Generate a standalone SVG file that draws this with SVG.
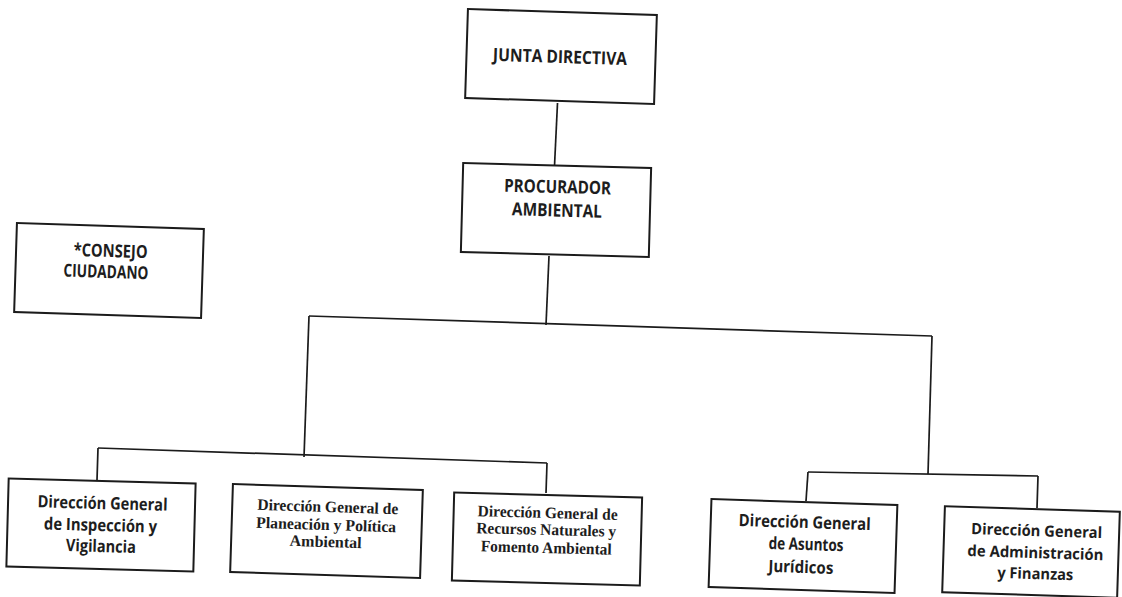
<svg xmlns="http://www.w3.org/2000/svg" width="1122" height="597" viewBox="0 0 1122 597">
<style>
.box{fill:#ffffff;stroke:#1b1b1b;stroke-width:2}
.cal{font-family:"Open Sans","Noto Sans",sans-serif;font-weight:700;font-size:17px;fill:#1d1d20;text-anchor:middle}
.hd{font-size:18px}
.sm{font-size:15.5px}
.tnr{font-family:"Liberation Serif","Times New Roman",serif;font-weight:700;font-size:16px;fill:#1d1d1d;text-anchor:middle}
.conn path{stroke:#1b1b1b;stroke-width:1.7;fill:none}
</style>
<rect width="1122" height="597" fill="#ffffff"/>
<g class="conn" id="connectors">
<path d="M557.5 103 L554.5 166"/>
<path d="M549 256 L546 325"/>
<path d="M309 316 L932 336"/>
<path d="M309 316 L304 457"/>
<path d="M98 448 L547 463"/>
<path d="M98 448 L97 480"/>
<path d="M547 463 L546 493"/>
<path d="M932 336 L928 474"/>
<path d="M808 472 L1038 476"/>
<path d="M808 472 L806 501"/>
<path d="M1038 476 L1037 508"/>
</g>
<g id="junta-directiva" transform="rotate(1.8 561 56.5)">
<rect class="box" x="466.5" y="12" width="189" height="89"/>
<text class="cal hd" x="560" y="63" textLength="134" lengthAdjust="spacingAndGlyphs">JUNTA DIRECTIVA</text>
</g>
<g id="procurador-ambiental" transform="rotate(1.5 556 210)">
<rect class="box" x="462" y="165.5" width="188" height="89"/>
<text class="cal hd" x="557" y="193" textLength="107" lengthAdjust="spacingAndGlyphs">PROCURADOR</text>
<text class="cal hd" x="557" y="216.5" textLength="90" lengthAdjust="spacingAndGlyphs">AMBIENTAL</text>
</g>
<g id="consejo-ciudadano" transform="rotate(1.8 109 270.5)">
<rect class="box" x="15.5" y="226" width="187" height="89"/>
<text class="cal hd" x="110" y="257" textLength="74" lengthAdjust="spacingAndGlyphs">*CONSEJO</text>
<text class="cal hd" x="106" y="278" textLength="85" lengthAdjust="spacingAndGlyphs">CIUDADANO</text>
</g>
<g id="dg-inspeccion" transform="rotate(1.5 101 525)">
<rect class="box" x="7.5" y="481" width="187" height="88"/>
<text class="cal" x="102" y="509" textLength="130" lengthAdjust="spacingAndGlyphs">Dirección General</text>
<text class="cal" x="100.5" y="531" textLength="113" lengthAdjust="spacingAndGlyphs">de Inspección y</text>
<text class="cal" x="101.5" y="552" textLength="70" lengthAdjust="spacingAndGlyphs">Vigilancia</text>
</g>
<g id="dg-planeacion" transform="rotate(1.8 326.5 531)">
<rect class="box" x="231.5" y="487" width="190" height="88"/>
<text class="tnr" x="327" y="512" textLength="141" lengthAdjust="spacingAndGlyphs">Dirección General de</text>
<text class="tnr" x="326" y="530" textLength="140" lengthAdjust="spacingAndGlyphs">Planeación y Política</text>
<text class="tnr" x="326" y="547" textLength="72" lengthAdjust="spacingAndGlyphs">Ambiental</text>
</g>
<g id="dg-recursos" transform="rotate(1.5 547 539)">
<rect class="box" x="453" y="495" width="188" height="88"/>
<text class="tnr" x="547" y="518" textLength="140" lengthAdjust="spacingAndGlyphs">Dirección General de</text>
<text class="tnr" x="546" y="535" textLength="140" lengthAdjust="spacingAndGlyphs">Recursos Naturales y</text>
<text class="tnr" x="546.5" y="553" textLength="131" lengthAdjust="spacingAndGlyphs">Fomento Ambiental</text>
</g>
<g id="dg-juridicos" transform="rotate(1.85 803 546)">
<rect class="box" x="710" y="502" width="186" height="88"/>
<text class="cal" x="804" y="528" textLength="132" lengthAdjust="spacingAndGlyphs">Dirección General</text>
<text class="cal" x="806" y="550" textLength="75" lengthAdjust="spacingAndGlyphs">de Asuntos</text>
<text class="cal" x="801.5" y="573" textLength="65" lengthAdjust="spacingAndGlyphs">Jurídicos</text>
</g>
<g id="dg-administracion" transform="rotate(1.8 1031 552.5)">
<rect class="box" x="943.5" y="509" width="175" height="86"/>
<text class="cal sm" x="1036" y="536" textLength="131" lengthAdjust="spacingAndGlyphs">Dirección General</text>
<text class="cal sm" x="1035.5" y="558" textLength="136" lengthAdjust="spacingAndGlyphs">de Administración</text>
<text class="cal sm" x="1036" y="579" textLength="76" lengthAdjust="spacingAndGlyphs">y Finanzas</text>
</g>
</svg>
